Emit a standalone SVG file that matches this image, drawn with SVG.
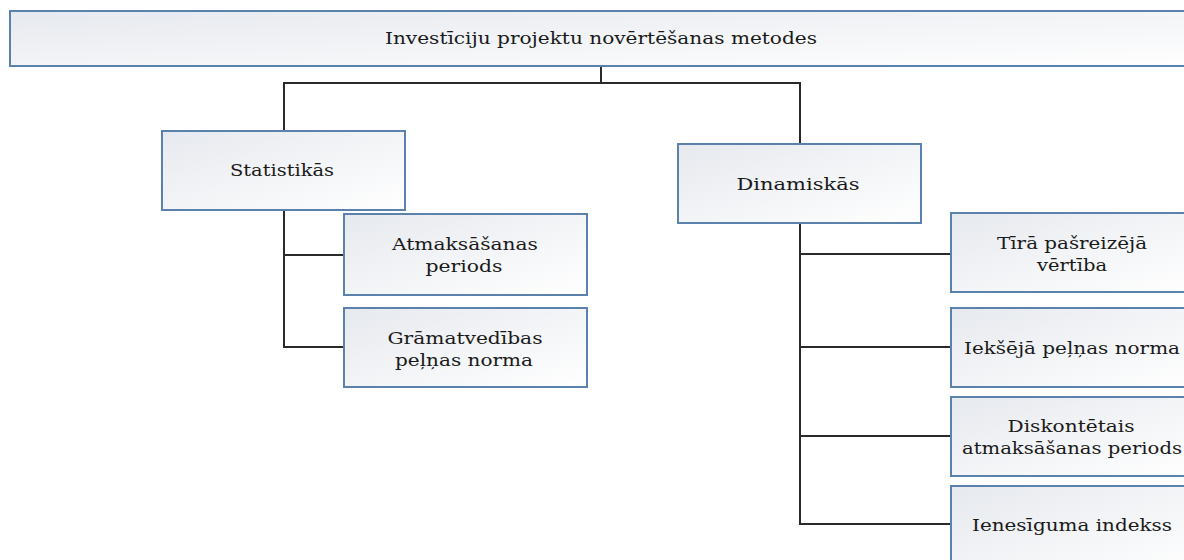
<svg xmlns="http://www.w3.org/2000/svg" width="1184" height="560" viewBox="0 0 1184 560">
  <style>
    .box { fill: url(#boxFill); stroke: #5b82ad; stroke-width: 2; }
    .lbl { font-family: "DejaVu Serif", "Liberation Serif", serif; font-size: 17px; fill: #1a1a1a; text-anchor: middle; }
    .wire { fill: none; stroke: #2a2a2a; stroke-width: 2; }
  </style>
  <defs>
    <linearGradient id="boxFill" x1="0" y1="0" x2="1" y2="1">
      <stop offset="0" stop-color="#e6e9ee"/>
      <stop offset="1" stop-color="#ffffff"/>
    </linearGradient>
  </defs>
  <rect width="1184" height="560" fill="#ffffff"/>

  <g id="connectors">
    <path class="wire" d="M601,66 V83 M284,131 V83 H800 V144"/>
    <path class="wire" d="M284,210 V347 H344 M284,255 H344"/>
    <path class="wire" d="M800,223 V524 H951 M800,254 H951 M800,347 H951 M800,436 H951"/>
  </g>

  <g id="root">
    <rect class="box" x="10" y="11" width="1190" height="55"/>
    <text class="lbl" x="601" y="44" textLength="432" lengthAdjust="spacingAndGlyphs">Investīciju projektu novērtēšanas metodes</text>
  </g>

  <g id="statistikas">
    <rect class="box" x="162" y="131" width="243" height="79"/>
    <text class="lbl" x="282" y="176" textLength="104" lengthAdjust="spacingAndGlyphs">Statistikās</text>
  </g>
  <g id="atmaksasanas">
    <rect class="box" x="344" y="214" width="243" height="81"/>
    <text class="lbl" x="465" y="250" textLength="146" lengthAdjust="spacingAndGlyphs">Atmaksāšanas</text>
    <text class="lbl" x="464" y="272" textLength="77" lengthAdjust="spacingAndGlyphs">periods</text>
  </g>
  <g id="gramatvedibas">
    <rect class="box" x="344" y="308" width="243" height="79"/>
    <text class="lbl" x="465" y="344" textLength="155" lengthAdjust="spacingAndGlyphs">Grāmatvedības</text>
    <text class="lbl" x="464" y="366" textLength="138" lengthAdjust="spacingAndGlyphs">peļņas norma</text>
  </g>

  <g id="dinamiskas">
    <rect class="box" x="678" y="144" width="243" height="79"/>
    <text class="lbl" x="798" y="190" textLength="123" lengthAdjust="spacingAndGlyphs">Dinamiskās</text>
  </g>
  <g id="tira">
    <rect class="box" x="951" y="213" width="243" height="79"/>
    <text class="lbl" x="1072" y="249" textLength="150" lengthAdjust="spacingAndGlyphs">Tīrā pašreizējā</text>
    <text class="lbl" x="1072" y="271" textLength="70" lengthAdjust="spacingAndGlyphs">vērtība</text>
  </g>
  <g id="ieksejas">
    <rect class="box" x="951" y="308" width="243" height="79"/>
    <text class="lbl" x="1072" y="354" textLength="216" lengthAdjust="spacingAndGlyphs">Iekšējā peļņas norma</text>
  </g>
  <g id="diskontetais">
    <rect class="box" x="951" y="397" width="243" height="79"/>
    <text class="lbl" x="1071" y="432" textLength="127" lengthAdjust="spacingAndGlyphs">Diskontētais</text>
    <text class="lbl" x="1072" y="454" textLength="220" lengthAdjust="spacingAndGlyphs">atmaksāšanas periods</text>
  </g>
  <g id="ienesiguma">
    <rect class="box" x="951" y="486" width="243" height="90"/>
    <text class="lbl" x="1072" y="531" textLength="200" lengthAdjust="spacingAndGlyphs">Ienesīguma indekss</text>
  </g>
</svg>
